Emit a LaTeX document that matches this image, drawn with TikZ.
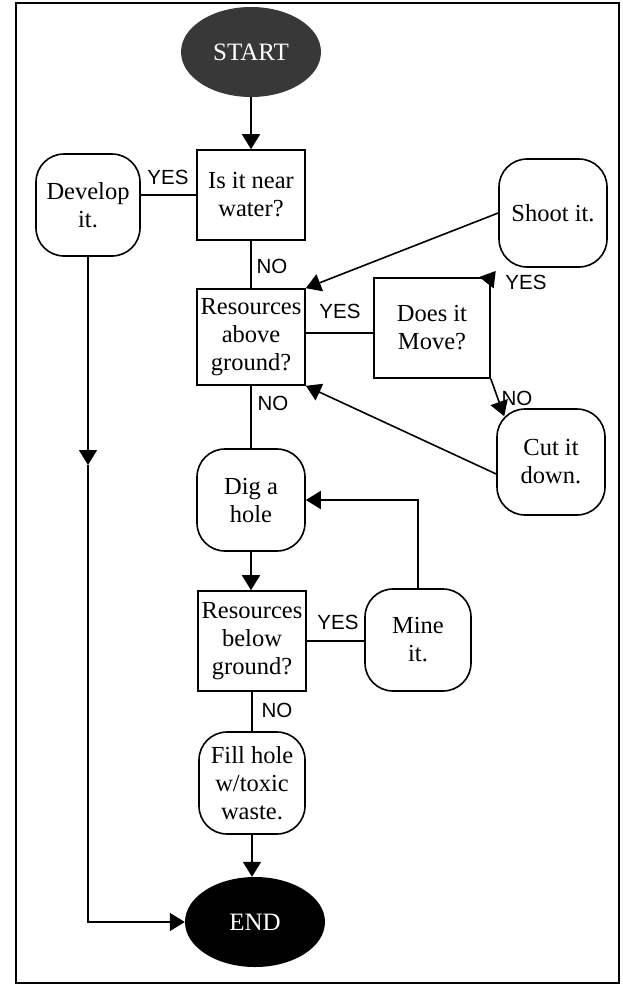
\documentclass[tikz,border=0pt]{standalone}
\usepackage{fontspec}
\setmainfont{Liberation Serif}
\setsansfont{Liberation Sans}
\usepackage{tikz}
\usetikzlibrary{calc, positioning, arrows.meta, shapes.geometric}

\begin{document}
\begin{tikzpicture}[x=1pt, y=-1pt,
    every node/.style={font=\fontsize{24.5}{28}\selectfont, align=center, inner sep=1pt},
    qbox/.style={draw, line width=1.6pt, minimum width=108pt, minimum height=98pt},
    dobox/.style={draw, line width=1.6pt, rounded corners=28pt, minimum width=106pt, minimum height=102pt},
    term/.style={ellipse, minimum width=140pt, minimum height=90pt, text=white, font=\fontsize{25}{28}\selectfont},
    flow/.style={line width=1.6pt, -{Triangle[width=18pt,length=15pt]}},
    link/.style={line width=1.6pt},
    answer/.style={font=\sffamily\fontsize{20.5}{22}\selectfont, inner sep=1pt},
  ]
    \useasboundingbox (0,0) rectangle (622,986);
    \draw[line width=2pt] (16,3) rectangle (619,983);

    % terminals
    \node[term, fill=black!78] (start) at (251,52) {START};
    \node[term, fill=black] (end) at (255,922) {END};

    % questions
    \node[qbox, minimum height=90pt] (near) at (251,195) {Is it near\\ water?};
    \node[qbox, minimum height=96pt] (above) at (251,337) {Resources\\ above\\ ground?};
    \node[qbox, minimum width=116pt, minimum height=100pt] (moves) at (432,328) {Does it\\ Move?};
    \node[qbox, minimum height=100pt] (below) at (252,641) {Resources\\ below\\ ground?};

    % actions
    \node[dobox, minimum width=104pt] (develop) at (88,205) {Develop\\ it.};
    \node[dobox, minimum width=108pt, minimum height=108pt] (shoot) at (553,213) {Shoot it.};
    \node[dobox, minimum width=108pt, minimum height=106pt] (cut) at (551,462) {Cut it\\ down.};
    \node[dobox, minimum width=108pt] (dig) at (251,500) {Dig a\\ hole};
    \node[dobox] (mine) at (418,640) {Mine\\ it.};
    \node[dobox, minimum height=102pt] (fill) at (252,783) {Fill hole\\ w/toxic\\ waste.};

    \coordinate (devmid) at (develop.south |- 0,465);
    \coordinate (yesout) at ($(above.east)+(0,-4)$);
    \coordinate (cutin) at ($(cut.north west)+(8,8)$);
    \coordinate (cutout) at ($(cut.west)+(0,12)$);

    % connectors
    \draw[flow] (start) -- (near);
    \draw[link] (near.west) -- (near.west -| develop.east);
    \draw[link] (near) -- (above);
    \draw[flow] (develop) -- (devmid);
    \draw[flow] (devmid) |- (end);
    \draw[link] (yesout) -- (yesout -| moves.west);
    \draw[flow, shorten >=4pt] (moves.north east) -- (shoot.south west);
    \draw[flow] (moves.south east) -- (cutin);
    \draw[flow] (shoot.west) -- (above.north east);
    \draw[flow] (cutout) -- (above.south east);
    \draw[link] (above) -- (dig);
    \draw[flow] (dig.south) -- (dig.south |- below.north);
    \draw[link] (below.east) -- (below.east -| mine.west);
    \draw[flow] (mine.north) |- (dig.east);
    \draw[link] (below) -- (fill);
    \draw[flow] (fill.south) -- (fill.south |- end.north);

    % answers
    \node[answer] (yes1) at (168,177) {YES};
    \node[answer] (no1) at (272,266) {NO};
    \node[answer] (yes2) at (340,311) {YES};
    \node[answer] (yes3) at (526,282) {YES};
    \node[answer] (no2) at (517,398) {NO};
    \node[answer] (no3) at (273,403) {NO};
    \node[answer] (yes4) at (338,622) {YES};
    \node[answer] (no4) at (277,710) {NO};
\end{tikzpicture}
\end{document}
